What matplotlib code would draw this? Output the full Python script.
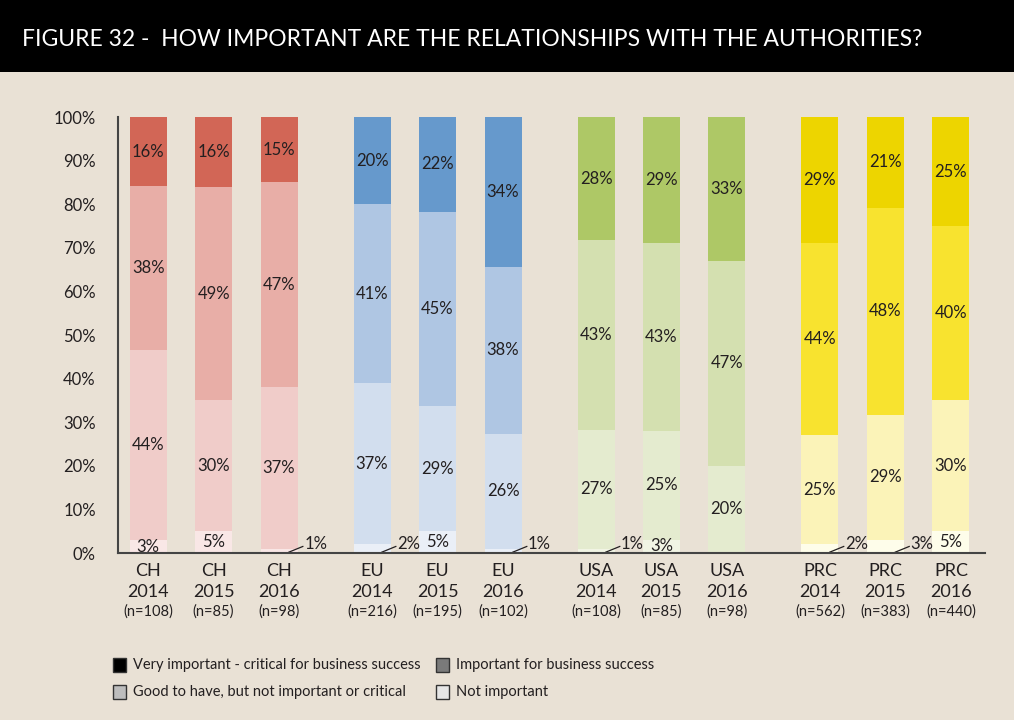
import matplotlib
matplotlib.use("Agg")
import matplotlib.pyplot as plt
from matplotlib.patches import Rectangle
import numpy as np

plt.rcParams['font.family'] = ['Lato', 'DejaVu Sans']

regions = ["CH", "CH", "CH", "EU", "EU", "EU", "USA", "USA", "USA", "PRC", "PRC", "PRC"]
years = ["2014", "2015", "2016"] * 4
sample_sizes = ["(n=108)", "(n=85)", "(n=98)", "(n=216)", "(n=195)", "(n=102)",
                "(n=108)", "(n=85)", "(n=98)", "(n=562)", "(n=383)", "(n=440)"]

# bottom to top
not_important = [3, 5, 1, 2, 5, 1, 1, 3, 0, 2, 3, 5]
good_to_have = [44, 30, 37, 37, 29, 26, 27, 25, 20, 25, 29, 30]
important = [38, 49, 47, 41, 45, 38, 43, 43, 47, 44, 48, 40]
very_important = [16, 16, 15, 20, 22, 34, 28, 29, 33, 29, 21, 25]

# labels of tiny segments drawn outside the bar with a leader line
outside_label = [False, False, True, True, False, True, True, False, False, True, True, False]

series_names = ["Very important - critical for business success",
                "Important for business success",
                "Good to have, but not important or critical",
                "Not important"]

palette = {
    "CH":  ["#F9E7E6", "#F0CCC9", "#E8AEA7", "#D26656"],
    "EU":  ["#EAEFF7", "#D2DEEE", "#AFC6E3", "#6699CC"],
    "USA": ["#F1F4E4", "#E4EBCF", "#D4E0B0", "#AEC866"],
    "PRC": ["#FEFDEA", "#FBF3B8", "#F8E32F", "#EDD500"],
}

bg = "#E9E1D5"
ink = "#231F20"

fig = plt.figure(figsize=(10.14, 7.2), dpi=100, facecolor=bg)

# title band
fig.add_artist(Rectangle((0, 1 - 72 / 720), 1, 72 / 720, transform=fig.transFigure,
                         facecolor="black", edgecolor="none"))
fig.text(22 / 1014, 1 - 40 / 720,
         "FIGURE 32 -  HOW IMPORTANT ARE THE RELATIONSHIPS WITH THE AUTHORITIES?",
         color="white", fontsize=16.5, va="center", ha="left")

ax = fig.add_axes([118 / 1014, 1 - 553 / 720, (985 - 118) / 1014, (553 - 117) / 720])
ax.set_facecolor(bg)

group_gap = 0.42
x = np.array([i + (i // 3) * group_gap for i in range(len(regions))])
width = 0.565

stack = np.array([not_important, good_to_have, important, very_important], dtype=float)
totals = stack.sum(axis=0)
heights = stack / totals * 100

bottom = np.zeros(len(regions))
for level in range(4):
    cols = [palette[r][level] for r in regions]
    ax.bar(x, heights[level], width, bottom=bottom, color=cols, edgecolor="none")
    for i in range(len(regions)):
        val = int(stack[level, i])
        h = heights[level, i]
        if val == 0:
            continue
        if level == 0 and outside_label[i]:
            ax.plot([x[i] + 0.15, x[i] + width / 2 + 0.08], [0.2, 1.5],
                    color=ink, lw=0.9, clip_on=False)
            ax.text(x[i] + width / 2 + 0.1, 2.0, f"{val}%", ha="left", va="center",
                    fontsize=12, color=ink)
        else:
            ax.text(x[i], bottom[i] + h / 2, f"{val}%", ha="center", va="center",
                    fontsize=12, color=ink)
    bottom += heights[level]

ax.set_xlim(-0.46, x[-1] + 0.52)
ax.set_ylim(0, 100)
ax.set_yticks(range(0, 101, 10))
ax.set_yticklabels([f"{v}%" for v in range(0, 101, 10)], fontsize=12, color=ink)
ax.tick_params(axis="y", length=0, pad=16)
ax.set_xticks([])
for s in ["top", "right"]:
    ax.spines[s].set_visible(False)
ax.spines["left"].set_color("#444444")
ax.spines["bottom"].set_color("#444444")
ax.spines["left"].set_linewidth(1.5)
ax.spines["bottom"].set_linewidth(1.5)

for i in range(len(regions)):
    ax.annotate(regions[i], xy=(x[i], 0), xycoords=("data", "axes fraction"),
                xytext=(0, -18), textcoords="offset pixels", ha="center", va="center",
                fontsize=13, color=ink)
    ax.annotate(years[i], xy=(x[i], 0), xycoords=("data", "axes fraction"),
                xytext=(0, -39), textcoords="offset pixels", ha="center", va="center",
                fontsize=13, color=ink)
    ax.annotate(sample_sizes[i], xy=(x[i], 0), xycoords=("data", "axes fraction"),
                xytext=(0, -59), textcoords="offset pixels", ha="center", va="center",
                fontsize=10.5, color=ink)

# legend, laid out by hand as two columns
legend_cols = ["#000000", "#7A7A7A", "#BDBDBD", "#E6E6E6"]
legend_pos = [(113, 665), (436, 665), (113, 692), (436, 692)]
for name, col, (px, py) in zip(series_names, legend_cols, legend_pos):
    fig.add_artist(Rectangle((px / 1014, 1 - (py + 7) / 720), 13 / 1014, 14 / 720,
                             transform=fig.transFigure, facecolor=col,
                             edgecolor="#333333", lw=1))
    fig.text((px + 20) / 1014, 1 - py / 720, name, fontsize=10.5, color=ink,
             va="center", ha="left")

fig.savefig("out.png", dpi=100, facecolor=bg)
